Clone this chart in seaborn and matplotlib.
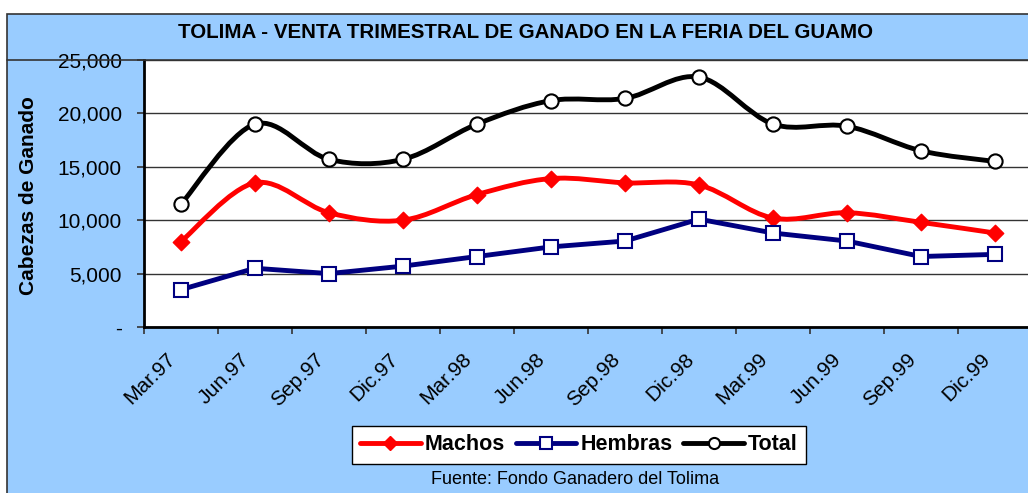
import matplotlib
matplotlib.use("Agg")
import matplotlib.pyplot as plt
from matplotlib.path import Path
from matplotlib.patches import PathPatch, Rectangle
from matplotlib.lines import Line2D
import matplotlib.ticker as mticker
import matplotlib.transforms as mtransforms
import seaborn as sns
import numpy as np

# data
periodos = ["Mar.97", "Jun.97", "Sep.97", "Dic.97", "Mar.98", "Jun.98",
            "Sep.98", "Dic.98", "Mar.99", "Jun.99", "Sep.99", "Dic.99"]
machos = [8000, 13500, 10700, 10000, 12400, 13900, 13500, 13300, 10200, 10700, 9800, 8800]
hembras = [3500, 5500, 5000, 5700, 6600, 7500, 8050, 10100, 8800, 8050, 6600, 6800]
total = [11500, 19000, 15700, 15700, 19000, 21200, 21400, 23400, 19000, 18800, 16500, 15500]

sns.set_style("white")
plt.rcParams["font.family"] = ["Liberation Sans", "DejaVu Sans"]
plt.rcParams["text.color"] = "black"
plt.rcParams["xtick.color"] = "black"
plt.rcParams["ytick.color"] = "black"
plt.rcParams["axes.labelcolor"] = "black"

W, H = 1028, 493
fig = plt.figure(figsize=(W / 100, H / 100), dpi=100)
fig.patch.set_facecolor("white")

# blue chart area with border, and the title band line
fig.add_artist(Rectangle((7 / W, -0.01), 1.0, (H - 14) / H + 0.01,
                         transform=fig.transFigure, facecolor="#99CCFF",
                         edgecolor="#333333", lw=1.2, zorder=-10))
fig.add_artist(Line2D([7 / W, 1], [(H - 60) / H] * 2, transform=fig.transFigure,
                      color="#333333", lw=1.2, zorder=10))

ax = fig.add_axes([144 / W, (H - 327) / H, 888 / W, 267 / H])
ax.set_facecolor("white")
x = np.arange(len(periodos))


def smooth_path(xs, ys):
    # Catmull-Rom style smoothing, like Excel's smoothed line
    pts = np.column_stack([xs, ys]).astype(float)
    n = len(pts)
    verts = [pts[0]]
    codes = [Path.MOVETO]
    for i in range(n - 1):
        p0 = pts[i - 1] if i > 0 else pts[i]
        p1, p2 = pts[i], pts[i + 1]
        p3 = pts[i + 2] if i + 2 < n else pts[i + 1]
        verts += [p1 + (p2 - p0) / 6, p2 - (p3 - p1) / 6, p2]
        codes += [Path.CURVE4] * 3
    return Path(verts, codes)


LW = 3.5

# Machos (smoothed)
ax.add_patch(PathPatch(smooth_path(x, machos), fill=False, edgecolor="#FF0000",
                       lw=LW, capstyle="round", joinstyle="round", zorder=3))
sns.scatterplot(x=x, y=machos, ax=ax, marker="D", s=70, color="#FF0000",
                edgecolor="#FF0000", linewidth=1, zorder=4, legend=False)

# Hembras (straight)
sns.lineplot(x=x, y=hembras, ax=ax, color="#000080", lw=LW, zorder=5,
             marker="s", markersize=9.5, markerfacecolor="white",
             markeredgecolor="#000080", markeredgewidth=1.5)

# Total (smoothed)
ax.add_patch(PathPatch(smooth_path(x, total), fill=False, edgecolor="black",
                       lw=LW, capstyle="round", joinstyle="round", zorder=6))
sns.scatterplot(x=x, y=total, ax=ax, marker="o", s=105, color="white",
                edgecolor="black", linewidth=1.5, zorder=7, legend=False)

ax.set_xlim(-0.5, len(periodos) - 0.5)
ax.set_ylim(0, 25000)
ax.yaxis.set_major_locator(mticker.MultipleLocator(5000))
ax.yaxis.set_major_formatter(mticker.FuncFormatter(
    lambda v, p: "-" if v == 0 else f"{int(v):,}"))
ax.grid(axis="y", color="#333333", lw=1)
ax.set_axisbelow(True)

ax.set_xticks(x)
ax.set_xticklabels(periodos, rotation=45, ha="right", va="top",
                   rotation_mode="anchor", fontsize=15)
ax.set_xticks(np.arange(-0.5, len(periodos), 1), minor=True)
ax.tick_params(axis="x", which="major", length=0, pad=14)
ax.tick_params(axis="x", which="minor", length=5, width=1.2, color="#333333",
               direction="out", bottom=True)
ax.tick_params(axis="y", length=5, width=1.2, color="#333333", direction="out",
               left=True, labelsize=15, pad=11)

# nudge the rotated labels left/down like the reference
shift = mtransforms.ScaledTranslation(-15 / 100, -3 / 100, fig.dpi_scale_trans)
for lbl in ax.get_xticklabels():
    lbl.set_transform(lbl.get_transform() + shift)

for side in ["left", "bottom"]:
    ax.spines[side].set_color("black")
    ax.spines[side].set_linewidth(2)
for side in ["top", "right"]:
    ax.spines[side].set_visible(False)

ax.set_xlabel("")
ax.set_ylabel("Cabezas de Ganado", fontsize=15, fontweight="bold")
ax.yaxis.set_label_coords((38 - 144) / 888, 0.494)

fig.text(525 / W, (H - 32) / H, "TOLIMA - VENTA TRIMESTRAL DE GANADO EN LA FERIA DEL GUAMO",
         ha="center", va="center", fontsize=14.8, fontweight="bold")

handles = [
    Line2D([], [], color="#FF0000", lw=LW, marker="D", markersize=7,
           markerfacecolor="#FF0000", markeredgecolor="#FF0000"),
    Line2D([], [], color="#000080", lw=LW, marker="s", markersize=8,
           markerfacecolor="white", markeredgecolor="#000080", markeredgewidth=1.5),
    Line2D([], [], color="black", lw=LW, marker="o", markersize=8,
           markerfacecolor="white", markeredgecolor="black", markeredgewidth=1.5),
]
leg = fig.legend(handles, ["Machos", "Hembras", "Total"], loc="center",
                 bbox_to_anchor=(579 / W, (H - 445) / H), ncol=3,
                 prop={"size": 15.5, "weight": "bold"}, frameon=True, fancybox=False,
                 handlelength=2.8, handletextpad=0.2, columnspacing=0.5,
                 borderpad=0.4, borderaxespad=0, framealpha=1)
leg.get_frame().set_edgecolor("black")
leg.get_frame().set_facecolor("white")
leg.get_frame().set_linewidth(1)

fig.text(575 / W, (H - 479) / H, "Fuente: Fondo Ganadero del Tolima",
         ha="center", va="center", fontsize=13)

fig.savefig("out.png", dpi=100)
